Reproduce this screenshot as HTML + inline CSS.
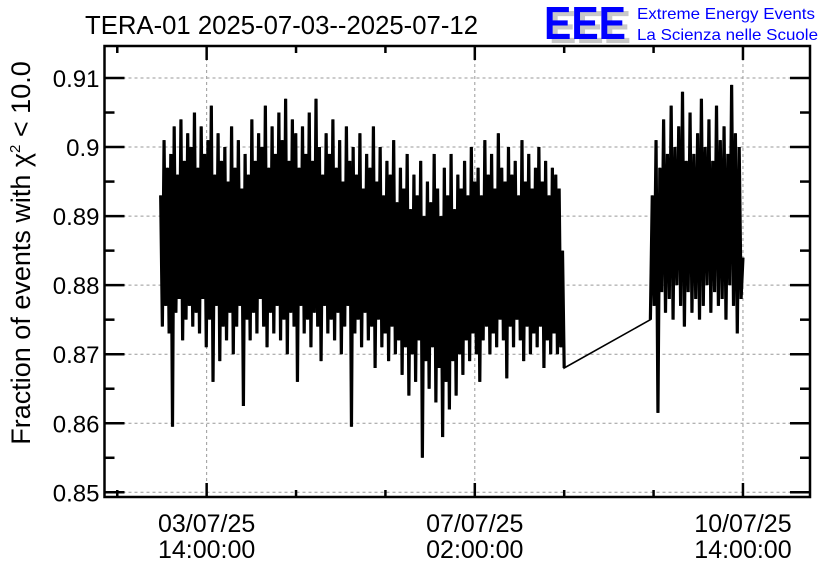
<!DOCTYPE html>
<html><head><meta charset="utf-8"><style>
html,body{margin:0;padding:0;background:#fff;}
svg{display:block;font-family:"Liberation Sans",sans-serif;}
</style></head><body>
<svg width="836" height="572" viewBox="0 0 836 572">
<text x="85" y="34" font-size="26" fill="#000" textLength="393" lengthAdjust="spacingAndGlyphs">TERA-01 2025-07-03--2025-07-12</text>
<g>
<text x="549" y="43" font-size="46" font-weight="bold" fill="#c8c8c8" textLength="82" lengthAdjust="spacingAndGlyphs">EEE</text>
<text x="544" y="39" font-size="46" font-weight="bold" fill="#0000ff" textLength="82" lengthAdjust="spacingAndGlyphs">EEE</text>
<text x="637" y="19" font-size="16" fill="#0000ff" textLength="178" lengthAdjust="spacingAndGlyphs">Extreme Energy Events</text>
<text x="637" y="40" font-size="16" fill="#0000ff" textLength="181" lengthAdjust="spacingAndGlyphs">La Scienza nelle Scuole</text>
</g>
<text transform="translate(30,253) rotate(-90)" text-anchor="middle" font-size="27" fill="#000">Fraction of events with χ<tspan dy="-10" font-size="15">2</tspan><tspan dy="10"> &lt; 10.0</tspan></text>
<g id="grid"></g>
<g id="series"></g>
<g id="axes"></g>
</svg>
<script>
const yTicks=[0.85,0.86,0.87,0.88,0.89,0.90,0.91];
const yTickLabels=["0.85","0.86","0.87","0.88","0.89","0.9","0.91"];
const xTickHours=[0,84,168];
const xTickLabels1=["03/07/25","07/07/25","10/07/25"];
const xTickLabels2=["14:00:00","02:00:00","14:00:00"];
const seg1Start=-14.4, seg1End=112;
const seg2Start=139, seg2End=168;
const seg1Values=[
0.893,0.874,0.901,0.877,0.897,0.873,0.899,0.8595,0.903,0.876,0.896,0.878,0.904,0.872,0.898,0.875,0.902,0.877,0.900,0.874,
0.905,0.876,0.897,0.873,0.903,0.878,0.899,0.871,0.901,0.875,0.906,0.866,0.896,0.877,0.902,0.869,0.898,0.874,0.900,0.872,
0.895,0.876,0.903,0.870,0.897,0.874,0.901,0.877,0.894,0.8625,0.899,0.875,0.896,0.872,0.904,0.876,0.898,0.873,0.902,0.878,
0.900,0.874,0.906,0.871,0.897,0.876,0.903,0.873,0.899,0.877,0.905,0.872,0.901,0.875,0.907,0.870,0.898,0.876,0.904,0.874,
0.902,0.866,0.897,0.877,0.903,0.873,0.899,0.875,0.905,0.871,0.898,0.876,0.907,0.874,0.900,0.869,0.896,0.877,0.902,0.873,
0.899,0.875,0.904,0.872,0.897,0.876,0.901,0.870,0.895,0.874,0.903,0.877,0.898,0.8595,0.900,0.873,0.896,0.875,0.902,0.871,
0.894,0.876,0.899,0.872,0.897,0.874,0.903,0.868,0.895,0.875,0.900,0.871,0.893,0.873,0.898,0.869,0.896,0.874,0.901,0.870,
0.892,0.872,0.897,0.867,0.894,0.871,0.899,0.864,0.891,0.870,0.896,0.866,0.893,0.872,0.898,0.855,0.890,0.869,0.895,0.865,
0.892,0.871,0.899,0.863,0.894,0.868,0.890,0.858,0.897,0.866,0.893,0.862,0.899,0.869,0.891,0.864,0.896,0.870,0.894,0.867,
0.898,0.872,0.893,0.869,0.900,0.873,0.895,0.870,0.897,0.866,0.893,0.872,0.901,0.874,0.896,0.870,0.899,0.873,0.894,0.871,
0.902,0.875,0.897,0.872,0.895,0.8665,0.900,0.874,0.896,0.871,0.898,0.875,0.893,0.872,0.901,0.869,0.895,0.874,0.899,0.870,
0.894,0.873,0.897,0.871,0.900,0.874,0.895,0.868,0.898,0.872,0.893,0.870,0.897,0.873,0.896,0.870,0.894,0.871,0.885,0.868];
const seg2Values=[
0.875,0.893,0.877,0.901,0.8615,0.897,0.879,0.904,0.876,0.899,0.878,0.906,0.875,0.900,0.880,0.903,0.877,0.908,0.874,0.898,
0.879,0.905,0.876,0.899,0.878,0.902,0.875,0.907,0.877,0.900,0.880,0.904,0.876,0.898,0.879,0.906,0.877,0.901,0.878,0.903,
0.875,0.899,0.880,0.909,0.877,0.902,0.873,0.900,0.878,0.884];

const L=104.5,R=810,T=46,B=497;
const H0=-32,H1=189;
function xs(h){return L+(h-H0)/(H1-H0)*(R-L);}
function ys(v){return 492.3-(v-0.85)/0.06*(492.3-78);}
const NS="http://www.w3.org/2000/svg";
function mk(tag,parent){const e=document.createElementNS(NS,tag);document.getElementById(parent).appendChild(e);return e;}

yTicks.forEach((v,i)=>{const l=mk('line','grid');


l.setAttribute('x1',L);l.setAttribute('x2',R);l.setAttribute('y1',ys(v));l.setAttribute('y2',ys(v));
l.setAttribute('stroke','#999');l.setAttribute('stroke-dasharray','3,3');});
xTickHours.forEach(h=>{const l=mk('line','grid');


l.setAttribute('x1',xs(h));l.setAttribute('x2',xs(h));l.setAttribute('y1',T);l.setAttribute('y2',B);
l.setAttribute('stroke','#999');l.setAttribute('stroke-dasharray','3,3');});

const pts1=[],pts2=[];
seg1Values.forEach((v,i)=>{const h=seg1Start+i*(seg1End-seg1Start)/(seg1Values.length-1);pts1.push(xs(h).toFixed(2)+','+ys(v).toFixed(2));});
seg2Values.forEach((v,i)=>{const h=seg2Start+i*(seg2End-seg2Start)/(seg2Values.length-1);pts2.push(xs(h).toFixed(2)+','+ys(v).toFixed(2));});
const pl=mk('polyline','series');


pl.setAttribute('points',pts1.concat(pts2).join(' '));pl.setAttribute('fill','none');pl.setAttribute('stroke','#000');pl.setAttribute('stroke-width','1.6');
const pl1=mk('polyline','series');


pl1.setAttribute('points',pts1.join(' '));pl1.setAttribute('fill','none');pl1.setAttribute('stroke','#000');pl1.setAttribute('stroke-width','3.2');
const pl2=mk('polyline','series');


pl2.setAttribute('points',pts2.join(' '));pl2.setAttribute('fill','none');pl2.setAttribute('stroke','#000');pl2.setAttribute('stroke-width','3.2');

const fr=mk('rect','axes');


fr.setAttribute('x',L);fr.setAttribute('y',T);fr.setAttribute('width',R-L);fr.setAttribute('height',B-T);
fr.setAttribute('fill','none');fr.setAttribute('stroke','#000');fr.setAttribute('stroke-width','2.5');
function tick(x1,y1,x2,y2,name){const l=mk('line','axes');


l.setAttribute('x1',x1);l.setAttribute('y1',y1);l.setAttribute('x2',x2);l.setAttribute('y2',y2);l.setAttribute('stroke','#000');l.setAttribute('stroke-width','2.5');}
for(let k=0;k<=13;k++){const v=0.85+k*0.005;const y=ys(v);if(y<T)continue;const len=(k%2===0)?20:10;
tick(L,y,L+len,y,'y-tick');tick(R,y,R-len,y,'y-tick');}
yTicks.forEach((v,i)=>{const t=mk('text','axes');


t.setAttribute('x',L-5);t.setAttribute('y',ys(v)+9);t.setAttribute('text-anchor','end');t.setAttribute('font-size','24');t.textContent=yTickLabels[i];});
for(let h=-28;h<=H1;h+=28){const x=xs(h);if(x<L||x>R)continue;const major=(h%84===0);const len=major?14:7;
tick(x,B,x,B-len,'x-tick');tick(x,T,x,T+len,'x-tick');}
xTickHours.forEach((h,i)=>{const t1=mk('text','axes');


t1.setAttribute('x',xs(h));t1.setAttribute('y',532);t1.setAttribute('text-anchor','middle');t1.setAttribute('font-size','25');t1.textContent=xTickLabels1[i];
const t2=mk('text','axes');


t2.setAttribute('x',xs(h));t2.setAttribute('y',558);t2.setAttribute('text-anchor','middle');t2.setAttribute('font-size','25');t2.textContent=xTickLabels2[i];});
</script>
</body></html>
